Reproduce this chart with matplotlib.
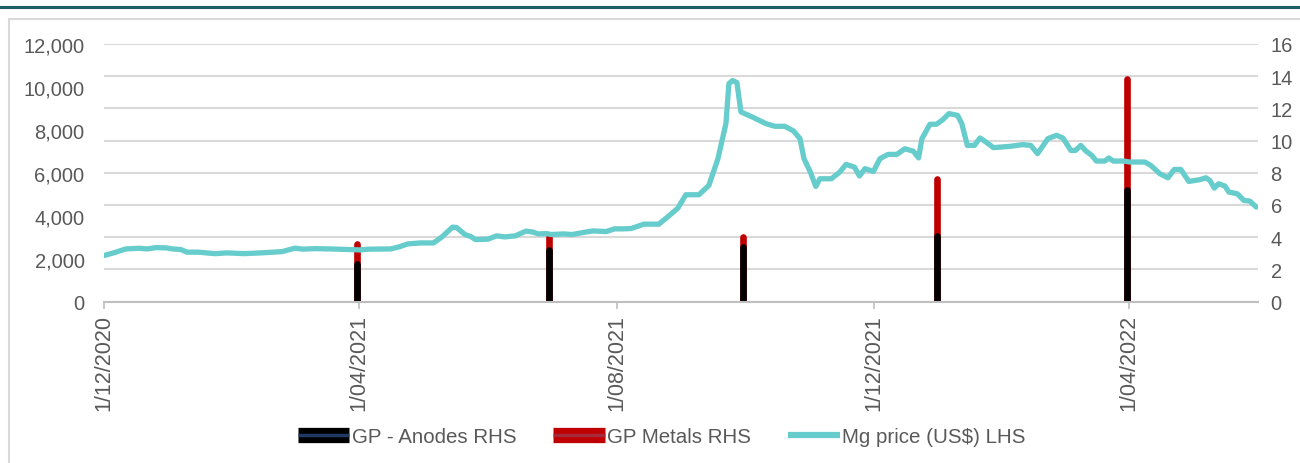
import matplotlib
matplotlib.use("Agg")
import matplotlib.pyplot as plt
from matplotlib.lines import Line2D
from matplotlib.legend_handler import HandlerTuple
import pandas as pd

plt.rcParams["font.family"] = ["Liberation Sans", "DejaVu Sans"]

# Mg price (US$): days after 1/12/2020 and price
mg_days = [0, 4.5, 10.4, 16.6, 20.4, 24.6, 29.4, 32.5, 36.5, 39.3, 44.5, 52.6, 58.3, 66.4,
           74.4, 84.4, 90.5, 94.3, 100.5, 110.4, 116.1, 121.3, 126, 136, 140.3, 144, 150.2,
           156.2, 160.2, 165.2, 167.1, 171.1, 173.9, 176.1, 182, 186.1, 190, 195, 200, 202.8,
           206, 210, 211.8, 218, 221.8, 228, 231.8, 238, 242, 246, 249.8, 256, 263, 268, 272,
           275.8, 282, 286.7, 291, 294.8, 296.2, 297.9, 300, 301.9, 307.9, 313.7, 318, 322.7,
           326.8, 329.9, 331.8, 334.8, 337.4, 339.3, 344.8, 348.8, 351.7, 355.7, 358.1, 360.7,
           364.7, 367.8, 371.6, 375.8, 379.6, 383.7, 386.1, 387.7, 391.5, 394.6, 397.6, 400.5,
           404.6, 406.6, 409.2, 412.6, 415.2, 418, 421.6, 429.4, 435.5, 439.3, 442.5, 447.4,
           451.5, 454.5, 458.3, 460.5, 463, 465.4, 468.2, 470.4, 474.4, 476.3, 478.4, 483.4,
           486.3, 493.4, 496.2, 500.5, 504.3, 507.3, 510.4, 514.2, 519.3, 522.3, 524.2, 526.3,
           528.3, 531.3, 533.2, 537.2, 540.3, 543.1, 546.2]
mg_price = [2140, 2265, 2450, 2480, 2450, 2510, 2500, 2450, 2420, 2300, 2300, 2230, 2265, 2230,
            2265, 2325, 2485, 2440, 2465, 2440, 2420, 2405, 2440, 2450, 2560, 2685, 2730,
            2730, 3010, 3465, 3450, 3120, 3025, 2885, 2905, 3060, 3010, 3060, 3280, 3245,
            3150, 3165, 3120, 3150, 3120, 3230, 3290, 3260, 3385, 3385, 3400, 3605, 3605, 4010, 4350,
            4975, 4975, 5410, 6655, 8290, 10150, 10300, 10200, 8835, 8570, 8290, 8165, 8165,
            7950, 7590, 6655, 6035, 5360, 5720, 5720, 6035, 6390, 6265, 5850, 6190,
            6060, 6655, 6855, 6855, 7120, 7000, 6690, 7590, 8260, 8260, 8475, 8755,
            8675, 8290, 7275, 7275, 7620, 7435, 7170, 7230, 7310, 7275, 6890, 7590,
            7745, 7620, 7040, 7040, 7275, 7015, 6810, 6545, 6545, 6690, 6545, 6545,
            6500, 6500, 6340, 5955, 5765, 6155, 6155, 5595, 5675, 5765, 5640, 5285,
            5490, 5380, 5100, 5020, 4710, 4680, 4400]

# quarterly gross profit (RHS)
quarters = ["2021-03-31", "2021-06-30", "2021-09-30", "2021-12-31", "2022-03-31"]
gp_anodes = [2.3, 3.2, 3.4, 4.1, 6.9]
gp_metals = [1.3, 0.8, 0.6, 3.5, 6.9]

tick_dates = ["2020-12-01", "2021-04-01", "2021-08-01", "2021-12-01", "2022-04-01"]

start = pd.Timestamp("2020-12-01")
mg_dates = start + pd.to_timedelta(mg_days, unit="D")
q_dates = pd.to_datetime(quarters)
gp_total = [a + m for a, m in zip(gp_anodes, gp_metals)]

teal = "#66CCCC"
red = "#C00000"
grey_txt = "#595959"
grid_c = "#D9D9D9"

fig = plt.figure(figsize=(13, 4.64), dpi=100)
# frame decorations
fig.add_artist(Line2D([0, 1], [1 - 8 / 464, 1 - 8 / 464], color="#1F5F66", lw=2.2))
fig.add_artist(plt.Rectangle((9 / 1300, -0.01), 1.0, 1 - 20 / 464 + 0.01, fill=False,
                             edgecolor=grid_c, lw=1.5))

ax = fig.add_axes([104 / 1300, 1 - 302.5 / 464, (1258 - 104) / 1300, (302.5 - 45) / 464])
ax2 = ax.twinx()
ax.set_zorder(ax2.get_zorder() + 1)
ax.patch.set_visible(False)

# bars on right axis
ax2.vlines(q_dates, 0, gp_total, color=red, lw=4.8, capstyle="round", zorder=3)
ax2.vlines(q_dates, 0, gp_anodes, color="black", lw=4.8, capstyle="round", zorder=4)
ax2.set_ylim(0, 16)
ax2.set_yticks(range(0, 17, 2))
ax2.grid(axis="y", color=grid_c, lw=1.5)
ax2.set_axisbelow(True)

# Mg price line on left axis
ax.plot(mg_dates, mg_price, color=teal, lw=3.8, solid_joinstyle="round", solid_capstyle="round")
ax.set_ylim(0, 12000)
ax.set_yticks(range(0, 12001, 2000))
ax.yaxis.set_major_formatter(plt.FuncFormatter(lambda v, p: f"{int(v):,}"))

ax.set_xlim(start, start + pd.Timedelta(days=547))
ticks = pd.to_datetime(tick_dates)
ax.set_xticks(ticks)
ax.set_xticklabels([f"{d.day}/{d.month:02d}/{d.year}" for d in ticks], rotation=90)

for a in (ax, ax2):
    for s in a.spines.values():
        s.set_visible(False)
ax.spines["bottom"].set_visible(True)
ax.spines["bottom"].set_color("#BFBFBF")
ax.spines["bottom"].set_linewidth(1.5)

ax.tick_params(axis="y", length=0, labelsize=14.5, labelcolor=grey_txt, pad=14)
ax2.tick_params(axis="y", length=0, labelsize=14.5, labelcolor=grey_txt, pad=9)
ax.tick_params(axis="x", length=5, color="#BFBFBF", width=1.2, labelsize=15.5,
               labelcolor=grey_txt, pad=4)
ax2.tick_params(axis="x", length=0)

h_anodes = (Line2D([], [], color="black", lw=11, solid_capstyle="butt"),
            Line2D([], [], color="#1F3864", lw=2.5, solid_capstyle="butt"))
h_metals = (Line2D([], [], color=red, lw=11, solid_capstyle="butt"),
            Line2D([], [], color="#A52A3A", lw=2.5, solid_capstyle="butt"))
h_mg = Line2D([], [], color=teal, lw=4.5, solid_capstyle="butt")
fig.legend([h_anodes, h_metals, h_mg], ["GP - Anodes RHS", "GP Metals RHS", "Mg price (US$) LHS"],
           handler_map={tuple: HandlerTuple(ndivide=1)}, loc="center",
           bbox_to_anchor=(0.509, 1 - 438 / 464), ncol=3, frameon=False, fontsize=14.8,
           labelcolor=grey_txt, handlelength=2.5, handletextpad=0.12, columnspacing=1.8)

fig.savefig("out.png", dpi=100)
